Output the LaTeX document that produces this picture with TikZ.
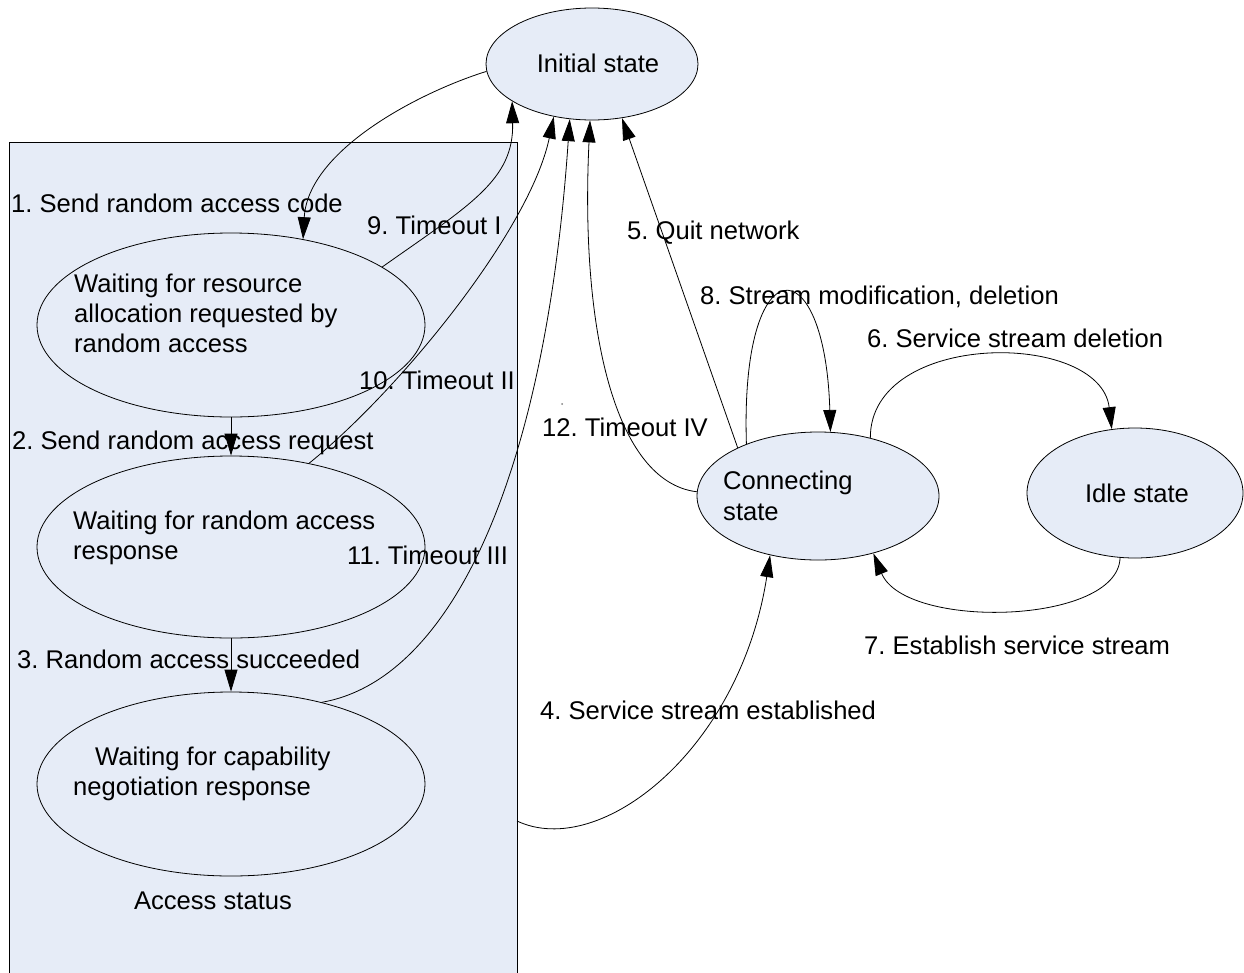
\documentclass[tikz,border=0pt]{standalone}
\usepackage{fontspec}
\setmainfont{Liberation Sans}
\usetikzlibrary{arrows.meta,shapes.geometric}
\definecolor{stateblue}{RGB}{230,236,247}
\frenchspacing
\begin{document}
\begin{tikzpicture}[x=1pt,y=-1pt,
  every node/.style={font=\fontsize{25.6}{30}\selectfont},
  state/.style={ellipse,draw=black,fill=stateblue,line width=0.8pt,inner sep=0pt},
  lbl/.style={anchor=base west,inner sep=0pt},
  lblc/.style={anchor=base,inner sep=0pt},
  conn/.style={line width=0.8pt,-{Triangle[length=22pt,width=13pt]}}]
\useasboundingbox (0,0) rectangle (1244,972);
\fill[white] (0,0) rectangle (1244,972);

% access sub-states container
\node[draw=black,fill=stateblue,line width=0.8pt,inner sep=0pt,
      minimum width=508pt,minimum height=870pt] (box) at (263,577) {};
\coordinate (boxport) at (517,821);

% states
\node[state,minimum width=212pt,minimum height=112pt] (init) at (592,64) {};
\node[state,minimum width=388pt,minimum height=184pt] (e1) at (231,325) {};
\node[state,minimum width=388pt,minimum height=182pt] (e2) at (231,547) {};
\node[state,minimum width=388pt,minimum height=184pt] (e3) at (231,784) {};
\node[state,minimum width=242pt,minimum height=128pt] (conn) at (818,496) {};
\node[state,minimum width=216pt,minimum height=130pt] (idle) at (1135,493) {};

% state texts
\node[lblc] (tinit) at (598,72) {Initial state};
\node[lbl] (te1a) at (74,292) {Waiting for resource};
\node[lbl] (te1b) at (74,322) {allocation requested by};
\node[lbl] (te1c) at (74,352) {random access};
\node[lbl] (te2a) at (73,529) {Waiting for random access};
\node[lbl] (te2b) at (73,559) {response};
\node[lbl] (te3a) at (95,765) {Waiting for capability};
\node[lbl] (te3b) at (73,795) {negotiation response};
\node[lbl] (tconna) at (723,489) {Connecting};
\node[lbl] (tconnb) at (723,520) {state};
\node[lblc] (tidle) at (1137,502) {Idle state};
\node[lblc] (tbox) at (213,909) {Access status};

% transitions
\draw[conn] (init.184) .. controls (420,92) and (308,150) .. (e1.50.6);
\draw[conn] (e1.south) -- (e2.north);
\draw[conn] (e2.south) -- (e3.north);
\draw[conn] (boxport) .. controls (600,860) and (740,750) .. (conn.231);
\draw[conn] (conn.149.7) -- (init.299);
\draw[conn] (conn.48) .. controls (870,330) and (1100,330) .. (idle.110);
\draw[conn] (idle.257) .. controls (1118,625) and (905,630) .. (conn.314);
\draw[conn] (conn.144.4) .. controls (740,245) and (825,245) .. (conn.79);
\draw[conn] (e1.21) .. controls (470,205) and (514,180) .. (init.205);
\draw[conn] (e2.47.5) .. controls (400,390) and (530,230) .. (init.234.5);
\draw[conn] (e3.42) .. controls (450,680) and (545,480) .. (init.248.5);
\draw[conn] (conn.178) .. controls (615,482) and (580,330) .. (init.268);

% transition labels
\node[lbl] (l1) at (11,212) {1. Send random access code};
\node[lbl] (l2) at (12,449) {2. Send random access request};
\node[lbl] (l3) at (17,668) {3. Random access succeeded};
\node[lbl] (l4) at (540,719) {4. Service stream established};
\node[lbl] (l5) at (627,239) {5. Quit network};
\node[lbl] (l6) at (867,347) {6. Service stream deletion};
\node[lbl] (l7) at (864,654) {7. Establish service stream};
\node[lbl] (l8) at (700,304) {8. Stream modification, deletion};
\node[lbl] (l9) at (367,234) {9. Timeout I};
\node[lbl] (l10) at (359,389) {10. Timeout II};
\node[lbl] (l11) at (347,564) {11. Timeout III};
\node[lbl] (l12) at (542,436) {12. Timeout IV};

\fill[gray] (562,404) circle (1);
\end{tikzpicture}
\end{document}
